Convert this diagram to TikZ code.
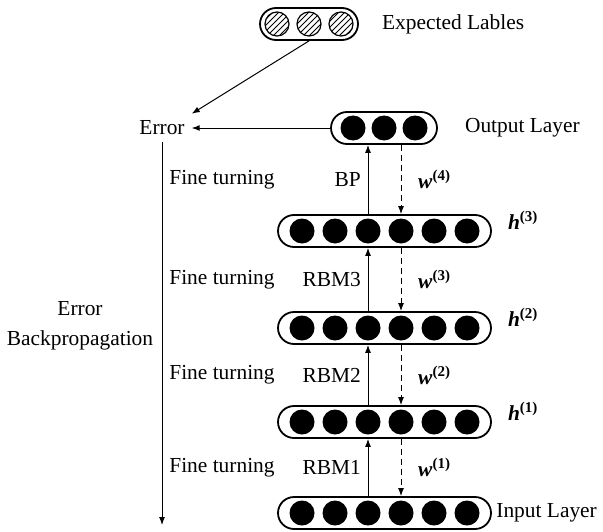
\documentclass[tikz,border=0pt]{standalone}
\usepackage{fontspec}
\setmainfont{Liberation Serif}
\usetikzlibrary{positioning,arrows.meta,patterns}

\newcommand{\hlbl}[1]{\textbf{\textit{h}}\textsuperscript{\textbf{(#1)}}}
\newcommand{\wlbl}[1]{\textbf{\textit{w}}\textsuperscript{\textbf{(#1)}}}

\begin{document}
\begin{tikzpicture}[x=0.5pt,y=0.5pt,line width=0.5pt,
  font=\fontsize{10.7}{13}\selectfont,
  >={Latex[length=4pt,width=3pt]},
  layer/.style={draw,line width=0.9pt,rounded corners=8pt,minimum height=16pt,inner sep=0pt},
  unit/.style={circle,fill=black,minimum size=12.5pt,inner sep=0pt},
  target/.style={circle,draw,line width=0.6pt,pattern=north east lines,minimum size=12pt,inner sep=0pt},
  up/.style={->},
  down/.style={->,dash pattern=on 3pt off 2pt}]
  \useasboundingbox (0,0) rectangle (603,531);

  % hidden and input layers
  \foreach \l/\y in {inp/18,h1/109,h2/203,h3/300}{
    \node[layer,minimum width=106.5pt] (\l) at (384.5,\y) {};
    \foreach \i in {1,...,6}
      \node[unit] (\l-\i) at ({384.5+(\i-3.5)*33},\y) {};
  }
  % output layer and expected labels
  \node[layer,minimum width=53pt] (out) at (384,403) {};
  \foreach \i in {1,2,3}
    \node[unit] (out-\i) at ({384+(\i-2)*31},403) {};
  \node[layer,minimum width=49pt] (exp) at (309,507) {};
  \foreach \i in {1,2,3}
    \node[target] (exp-\i) at ({309+(\i-2)*32},507) {};

  \node[right=8pt of exp] (explbl) {Expected Lables};
  \node[right=10pt of out] (outlbl) {Output Layer};
  \node[right=0pt of inp,inner sep=2pt] (inplbl) {Input Layer};
  \foreach \l/\k in {h1/1,h2/2,h3/3}
    \node[anchor=base west] (\l lbl) at ([xshift=4.5pt,yshift=1pt]\l.east) {\hlbl{\k}};

  % pretraining and fine tuning
  \foreach \a/\b/\k/\t in {inp/h1/1/RBM1,h1/h2/2/RBM2,h2/h3/3/RBM3,h3/out/4/BP}{
    \draw[up] (\a.north -| \a-3) -- (\b.south -| \a-3) node[midway,left] (t\k) {\t};
    \draw[down] (\b.south -| \a-4) -- (\a.north -| \a-4) node[midway,right=5pt] (w\k) {\wlbl{\k}};
    \path (222,0 |- \a.north) -- (222,0 |- \b.south) node[midway] (ft\k) {Fine turning};
  }

  % error
  \node (err) at (162,403) {Error};
  \draw[->] (out) -- (err);
  \draw[->] (exp.south) -- (err.north east);
  \coordinate (bpend) at (162,6);
  \draw[->] (err) -- (bpend);
  \node[align=center] (bplbl) at (80,205) {Error\\[2pt]Backpropagation};
\end{tikzpicture}
\end{document}
